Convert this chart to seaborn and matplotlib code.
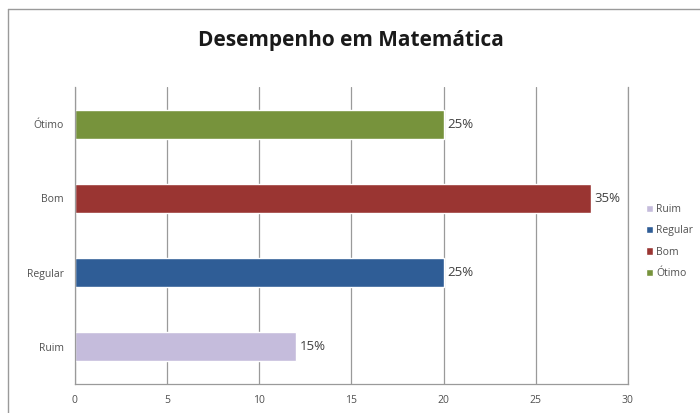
import matplotlib
matplotlib.use("Agg")
import matplotlib.pyplot as plt
import pandas as pd
import seaborn as sns

# Data
categorias = ['Ruim', 'Regular', 'Bom', 'Ótimo']
valores = [12, 20, 28, 20]
percentuais = ['15%', '25%', '35%', '25%']
cores = ['#c5bcdc', '#2f5d96', '#9a3532', '#77933c']
x_ticks = [0, 5, 10, 15, 20, 25, 30]

df = pd.DataFrame({'Categoria': categorias, 'Valor': valores})

sns.set_style("white")
plt.rcParams['font.family'] = ['Open Sans', 'DejaVu Sans']

fig = plt.figure(figsize=(7, 4.13), dpi=100)
ax = fig.add_axes([0.107, 0.070, 0.790, 0.719])

ordem_y = categorias[::-1]
sns.barplot(data=df, x='Valor', y='Categoria', hue='Categoria',
            order=ordem_y, hue_order=categorias,
            palette=dict(zip(categorias, cores)),
            orient='h', width=0.39, dodge=False, saturation=1,
            legend=True, ax=ax)

# percentage labels just right of each bar
for i, cat in enumerate(categorias):
    ax.text(valores[i] + 0.2, ordem_y.index(cat), percentuais[i],
            va='center', ha='left', fontsize=9.5, color='#404040')

ax.set_xlim(0, 30)
ax.set_ylim(3.5, -0.5)
ax.set_xticks(x_ticks)
ax.set_xticklabels([str(t) for t in x_ticks])
ax.xaxis.grid(True, color='#9a9a9a', linewidth=0.9)
ax.set_axisbelow(True)
ax.set_xlabel('')
ax.set_ylabel('')

ax.spines['top'].set_visible(False)
for s in ['left', 'bottom', 'right']:
    ax.spines[s].set_color('#9a9a9a')
    ax.spines[s].set_linewidth(0.9)

ax.set_yticks([-0.5, 0.5, 1.5, 2.5, 3.5], minor=True)
ax.tick_params(axis='y', which='major', length=0, labelsize=7.5, labelcolor='#505050', pad=8)
ax.tick_params(axis='y', which='minor', length=4, color='#9a9a9a', direction='out')
ax.tick_params(axis='x', which='major', length=4, color='#9a9a9a', direction='inout',
               labelsize=7.5, labelcolor='#505050', pad=6)

ax.set_title('Desempenho em Matemática', fontsize=15, fontweight='bold',
             color='#1a1a1a', y=1.11)

ax.legend(loc='center left', bbox_to_anchor=(1.015, 0.48), frameon=False,
          fontsize=7.5, handlelength=0.7, handleheight=0.7, handletextpad=0.3,
          labelspacing=1.0, labelcolor='#505050')

# outer chart frame (top and left edges visible)
fig.add_artist(plt.Line2D([8 / 700, 1], [1 - 9 / 413, 1 - 9 / 413], color='#9a9a9a', lw=1))
fig.add_artist(plt.Line2D([8 / 700, 8 / 700], [0, 1 - 9 / 413], color='#9a9a9a', lw=1))

plt.savefig('out.png', dpi=100)
